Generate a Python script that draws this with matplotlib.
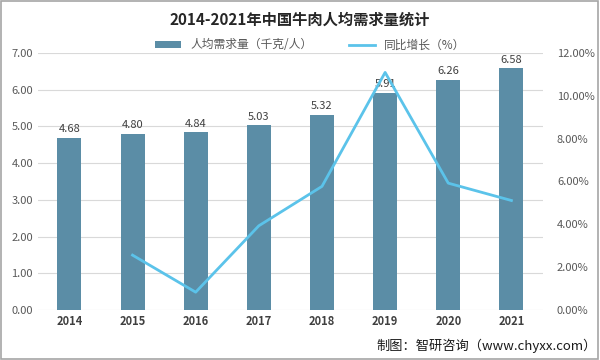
import matplotlib.pyplot as plt
from matplotlib.patches import Rectangle
from matplotlib.ticker import FuncFormatter

plt.rcParams['font.family'] = ['Noto Sans CJK SC', 'DejaVu Sans']

years = ["2014", "2015", "2016", "2017", "2018", "2019", "2020", "2021"]
demand = [4.68, 4.80, 4.84, 5.03, 5.32, 5.91, 6.26, 6.58]
growth_years = ["2015", "2016", "2017", "2018", "2019", "2020", "2021"]
growth = [2.56, 0.83, 3.93, 5.77, 11.09, 5.92, 5.11]

bar_color = "#5b8da6"
line_color = "#5bc3ea"
grey = "#595959"

fig = plt.figure(figsize=(6, 3.6), dpi=100)
ax = fig.add_axes([0.063, 0.139, 0.842, 0.714])

x = list(range(len(years)))
ax.bar(x, demand, width=0.38, color=bar_color, zorder=2, label="人均需求量（千克/人）")
for xi, v in zip(x, demand):
    ax.text(xi, v + 0.1, f"{v:.2f}", ha="center", va="bottom", fontsize=8, color="#404040")

ax.set_xlim(-0.5, len(years) - 0.5)
ax.set_ylim(0, 7)
ax.set_yticks([0, 1, 2, 3, 4, 5, 6, 7])
ax.yaxis.set_major_formatter(FuncFormatter(lambda v, p: f"{v:.2f}"))
ax.grid(axis="y", color="#d9d9d9", linewidth=0.8, zorder=0)
ax.set_xticks(x)
ax.set_xticklabels(years, fontsize=8, fontweight="bold", color="#404040")
ax.tick_params(axis="both", length=0)
ax.tick_params(axis="y", labelsize=8, labelcolor=grey)
for s in ax.spines.values():
    s.set_visible(False)

ax2 = ax.twinx()
gx = [years.index(y) for y in growth_years]
ax2.plot(gx, growth, color=line_color, linewidth=2, zorder=3, label="同比增长（%）")
ax2.set_ylim(0, 12)
ax2.set_yticks([0, 2, 4, 6, 8, 10, 12])
ax2.yaxis.set_major_formatter(FuncFormatter(lambda v, p: f"{v:.2f}%"))
ax2.tick_params(axis="y", length=0, labelsize=8, labelcolor=grey, pad=10)
for s in ax2.spines.values():
    s.set_visible(False)

fig.text(0.5, 0.945, "2014-2021年中国牛肉人均需求量统计", ha="center", va="center",
         fontsize=11, fontweight="bold", color="#262626")

h1, l1 = ax.get_legend_handles_labels()
h2, l2 = ax2.get_legend_handles_labels()
fig.legend(h1 + h2, l1 + l2, loc="center", bbox_to_anchor=(0.517, 0.875), ncol=2,
           frameon=False, fontsize=8.5, labelcolor=grey, columnspacing=3.1,
           handlelength=2.2, handleheight=0.6)

fig.text(0.995, 0.04, "制图：智研咨询（www.chyxx.com）", ha="right", va="center",
         fontsize=9.5, color="#1a1a1a")

fig.add_artist(Rectangle((0.002, 0.003), 0.995, 0.993, transform=fig.transFigure,
                         fill=False, edgecolor="#a6a6a6", linewidth=1.2))

fig.savefig("out.png", dpi=100)
